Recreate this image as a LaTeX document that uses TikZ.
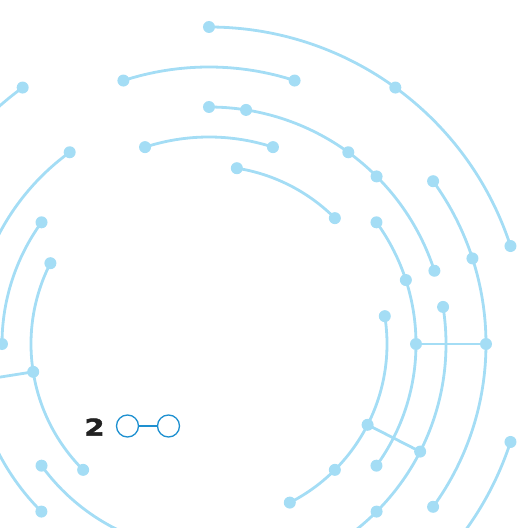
\documentclass[tikz,border=0pt]{standalone}
\usepackage{fontspec}
\newfontfamily\digitfont{DejaVu Sans}[BoldFeatures={FakeBold=2}]
\definecolor{ringblue}{RGB}{164,221,245}
\definecolor{keyblue}{RGB}{30,144,208}
\definecolor{keyblack}{RGB}{34,34,34}

\begin{document}
\begin{tikzpicture}[
		dot/.style={circle, fill=ringblue, inner sep=0pt, minimum size=12pt},
		ring/.style={draw=ringblue, line width=2.8pt},
		keyring/.style={circle, draw=keyblue, line width=1.3pt, inner sep=0pt, minimum size=22pt}]
		\useasboundingbox (-209pt,-184pt) rectangle (313pt,344pt);
		\clip (-209pt,-184pt) rectangle (313pt,344pt);
		% radius 317
		\node [dot] (o1) at (90:317pt) {};
		\node [dot] (o2) at (54:317pt) {};
		\node [dot] (o3) at (18:317pt) {};
		\node [dot] (o4) at (126:317pt) {};
		\node [dot] (o5) at (-18:317pt) {};
		\draw [ring] (o1.center) arc [start angle=90, end angle=18, radius=317pt];
		\draw [ring] (o4.center) arc [start angle=126, end angle=160, radius=317pt];
		\draw [ring] (o5.center) arc [start angle=-18, end angle=-60, radius=317pt];
		% radius 277
		\node [dot] (p1) at (108:277pt) {};
		\node [dot] (p2) at (72:277pt) {};
		\node [dot] (p3) at (36:277pt) {};
		\node [dot] (p4) at (18:277pt) {};
		\node [dot] (p5) at (0:277pt) {};
		\node [dot] (p6) at (-36:277pt) {};
		\draw [ring] (p1.center) arc [start angle=108, end angle=72, radius=277pt];
		\draw [ring] (p3.center) arc [start angle=36, end angle=-36, radius=277pt];
		% radius 237
		\node [dot] (q1) at (90:237pt) {};
		\node [dot] (q2) at (81:237pt) {};
		\node [dot] (q3) at (54:237pt) {};
		\node [dot] (q4) at (45:237pt) {};
		\node [dot] (q5) at (18:237pt) {};
		\node [dot] (q6) at (9:237pt) {};
		\node [dot] (q7) at (-27:237pt) {};
		\node [dot] (q8) at (-45:237pt) {};
		\node [dot] (q9) at (126:237pt) {};
		\node [dot] (q10) at (225:237pt) {};
		\draw [ring] (q1.center) arc [start angle=90, end angle=18, radius=237pt];
		\draw [ring] (q6.center) arc [start angle=9, end angle=-60, radius=237pt];
		\draw [ring] (q9.center) arc [start angle=126, end angle=225, radius=237pt];
		% radius 207
		\node [dot] (s1) at (108:207pt) {};
		\node [dot] (s2) at (72:207pt) {};
		\node [dot] (s3) at (36:207pt) {};
		\node [dot] (s4) at (18:207pt) {};
		\node [dot] (s5) at (0:207pt) {};
		\node [dot] (s6) at (-36:207pt) {};
		\node [dot] (s7) at (144:207pt) {};
		\node [dot] (s8) at (180:207pt) {};
		\node [dot] (s9) at (216:207pt) {};
		\draw [ring] (s1.center) arc [start angle=108, end angle=72, radius=207pt];
		\draw [ring] (s3.center) arc [start angle=36, end angle=-36, radius=207pt];
		\draw [ring] (s7.center) arc [start angle=144, end angle=180, radius=207pt];
		\draw [ring] (s9.center) arc [start angle=216, end angle=255, radius=207pt];
		% radius 178
		\node [dot] (t1) at (81:178pt) {};
		\node [dot] (t2) at (45:178pt) {};
		\node [dot] (t3) at (9:178pt) {};
		\node [dot] (t4) at (-27:178pt) {};
		\node [dot] (t5) at (-45:178pt) {};
		\node [dot] (t6) at (-63:178pt) {};
		\node [dot] (t7) at (153:178pt) {};
		\node [dot] (t8) at (189:178pt) {};
		\node [dot] (t9) at (225:178pt) {};
		\draw [ring] (t1.center) arc [start angle=81, end angle=45, radius=178pt];
		\draw [ring] (t3.center) arc [start angle=9, end angle=-63, radius=178pt];
		\draw [ring] (t7.center) arc [start angle=153, end angle=225, radius=178pt];
		% spokes
		\coordinate (w) at (189:237pt);
		\draw [ring] (s5.center) -- (p5.center);
		\draw [ring] (t4.center) -- (q7.center);
		\draw [ring] (t8.center) -- (w);
		% key
		\node [text=keyblack, xscale=1.25, inner sep=0pt] (two) at (-114.5pt,-83pt) {\digitfont\bfseries\fontsize{23}{23}\selectfont 2};
		\node [keyring] (k1) at (-81.5pt,-82pt) {};
		\node [keyring] (k2) at (-40.5pt,-82pt) {};
		\draw [keyblue, line width=1.3pt] (k1) -- (k2);
	\end{tikzpicture}
\end{document}
